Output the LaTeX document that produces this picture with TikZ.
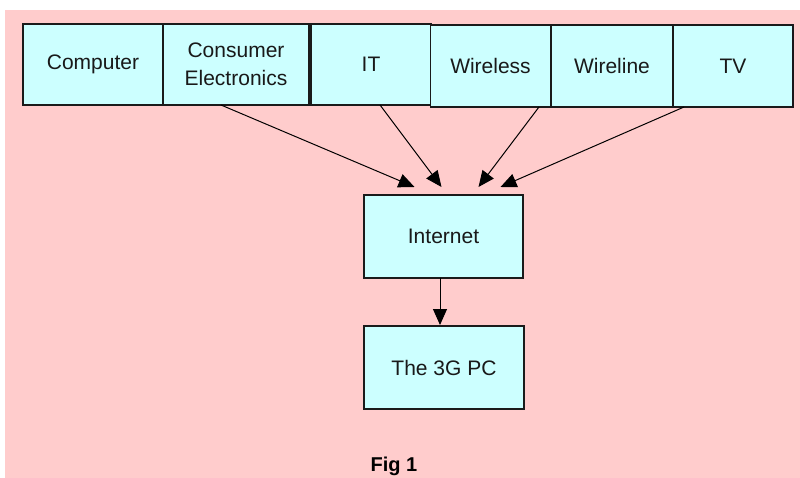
\documentclass[tikz,border=0pt]{standalone}
\usepackage{fontspec}
\setmainfont{Liberation Sans}
\usetikzlibrary{arrows.meta}
\definecolor{bgpink}{HTML}{FFCCCC}
\definecolor{boxcyan}{HTML}{CCFFFF}
\definecolor{edge}{HTML}{1A1A1A}
\begin{document}
\begin{tikzpicture}[x=1pt,y=-1pt,
  box/.style={draw=edge,fill=boxcyan,line width=1.5pt,inner sep=0pt,outer sep=0pt,
    align=center,font=\fontsize{21}{28}\selectfont,text=black!90},
  link/.style={draw=black,line width=1pt,-{Triangle[length=16pt,width=14pt]}}]
  % canvas: white margin on the top and left, pink panel elsewhere
  \useasboundingbox (0,0) rectangle (800,478);
  \fill[white] (0,0) rectangle (800,478);
  \fill[bgpink] (5,10) rectangle (800,478);

  % top row of industries
  \node[box,minimum width=140pt,minimum height=81pt] (comp) at (93,64.5) {Computer};
  \node[box,minimum width=146pt,minimum height=81pt] (cons) at (236,64.5) {Consumer\\Electronics};
  \node[box,minimum width=120pt,minimum height=81pt] (it) at (371,64.5) {IT};
  \node[box,minimum width=120pt,minimum height=82pt] (wless) at (490.5,66) {Wireless};
  \node[box,minimum width=121pt,minimum height=82pt] (wline) at (612,66) {Wireline};
  \node[box,minimum width=120pt,minimum height=82pt] (tv) at (733,66) {TV};

  % convergence chain
  \node[box,minimum width=159pt,minimum height=83pt] (inet) at (443.5,236.5) {Internet};
  \node[box,minimum width=160pt,minimum height=83pt] (pc) at (444,367.5) {The 3G PC};

  % caption
  \node[font=\bfseries\fontsize{20}{22}\selectfont,inner sep=0pt] (cap) at (394,466) {Fig 1};

  % arrows into the Internet box
  \draw[link] ([xshift=-15pt]cons.south) -- ([xshift=-29pt,yshift=8pt]inet.north);
  \draw[link] ([xshift=9pt]it.south) -- ([xshift=-2pt,yshift=8pt]inet.north);
  \draw[link] ([xshift=48.5pt]wless.south) -- ([xshift=35pt,yshift=8pt]inet.north);
  \draw[link] ([xshift=-49pt]tv.south) -- ([xshift=57pt,yshift=8pt]inet.north);

  % Internet feeds the 3G PC
  \draw[link] ([xshift=-3.5pt]inet.south) -- ([xshift=-4pt,yshift=1pt]pc.north);
\end{tikzpicture}
\end{document}
